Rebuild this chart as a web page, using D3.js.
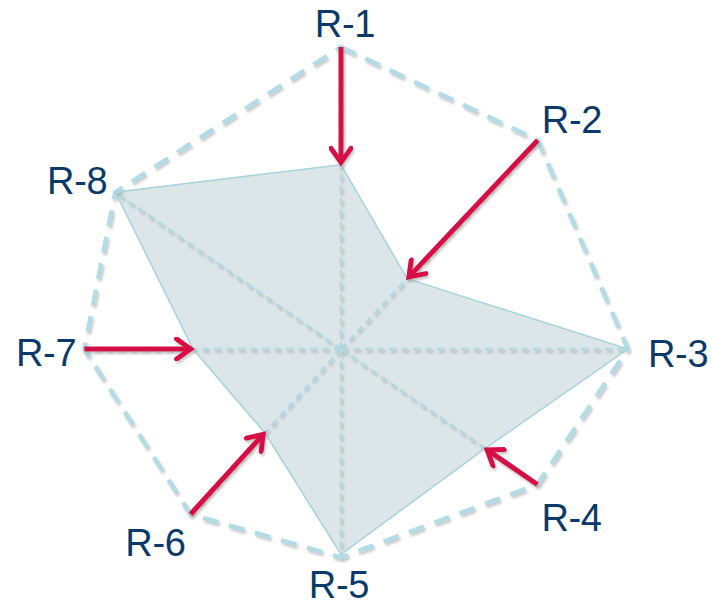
<!DOCTYPE html>
<html>
<head>
<meta charset="utf-8">
<script src="https://cdn.jsdelivr.net/npm/d3@7"></script>
<style>
  html, body { margin: 0; padding: 0; background: #ffffff; }
  svg { display: block; }
</style>
</head>
<body>
<svg id="chart" width="713" height="606"></svg>
<script>
// Radar categories and the two series: the target (dashed outline) and the actual (shaded area)
const categories = ["R-1", "R-2", "R-3", "R-4", "R-5", "R-6", "R-7", "R-8"];
const targetValues = [100, 95, 95, 79, 69, 74, 85, 91];
const actualValues = [61, 32, 95, 58, 68, 37.5, 49, 91];

// Geometry of the spokes (bearing in degrees, clockwise from up)
const axisBearing = [0, 43.3, 90, 124.6, 180, 222.3, 270, 304.8];
// Label nudges from the end of each spoke, with text anchor
const labelNudge = [[4, -10, "middle"], [4, -7, "start"], [20, 18, "start"], [4, 47, "start"],
                    [-2, 41, "middle"], [-5, 42, "end"], [-8, 17, "end"], [-8, 2, "end"]];

const W = 713, H = 606;
const svg = d3.select("#chart");
const cx = 341, cy = 349;
const r = d3.scaleLinear().domain([0, 100]).range([0, 302]);
const rad = d3.scaleLinear().domain([0, 360]).range([0, 2 * Math.PI]);

function pt(i, v) {
  const a = rad(axisBearing[i]);
  return [cx + r(v) * Math.sin(a), cy - r(v) * Math.cos(a)];
}

const defs = svg.append("defs");
const sh = defs.append("filter").attr("id", "shadow")
  .attr("filterUnits", "userSpaceOnUse")
  .attr("x", 0).attr("y", 0).attr("width", W).attr("height", H);
sh.append("feDropShadow").attr("dx", 1.5).attr("dy", 2.5).attr("stdDeviation", 1.2)
  .attr("flood-color", "#8a8a8a").attr("flood-opacity", 0.45);

const arrowColor = "#d70a45";
defs.append("marker").attr("id", "head")
  .attr("viewBox", "-20 -12 24 24")
  .attr("refX", 0).attr("refY", 0)
  .attr("markerWidth", 24).attr("markerHeight", 24)
  .attr("markerUnits", "userSpaceOnUse")
  .attr("orient", "auto")
  .append("path")
  .attr("d", "M-14,-10 L0,0 L-14,10")
  .attr("fill", "none")
  .attr("stroke", arrowColor)
  .attr("stroke-width", 5)
  .attr("stroke-linecap", "round")
  .attr("stroke-linejoin", "miter");

const line = d3.line().curve(d3.curveLinearClosed);
const idx = d3.range(categories.length);

// Actual area fill
svg.append("path")
  .attr("d", line(idx.map(i => pt(i, actualValues[i]))))
  .attr("fill", "#dce5e8")
  .attr("stroke", "none");

// Spokes
svg.append("g").attr("filter", "url(#shadow)")
  .selectAll("line").data(idx).join("line")
  .attr("x1", cx).attr("y1", cy)
  .attr("x2", i => pt(i, targetValues[i])[0])
  .attr("y2", i => pt(i, targetValues[i])[1])
  .attr("stroke", "#b2d9e3")
  .attr("stroke-width", 2.5)
  .attr("stroke-dasharray", "7,5");

// Target outline
svg.append("path")
  .attr("d", line(idx.map(i => pt(i, targetValues[i]))))
  .attr("fill", "none")
  .attr("stroke", "#b3dce6")
  .attr("stroke-width", 4.5)
  .attr("stroke-dasharray", "16,11")
  .attr("filter", "url(#shadow)");

// Actual area outline
svg.append("path")
  .attr("d", line(idx.map(i => pt(i, actualValues[i]))))
  .attr("fill", "none")
  .attr("stroke", "#a6d3dd")
  .attr("stroke-width", 1.5);

// Gap arrows from target toward actual
const gaps = idx.filter(i => targetValues[i] - actualValues[i] > 5);
svg.append("g").attr("filter", "url(#shadow)")
  .selectAll("line").data(gaps).join("line")
  .attr("x1", i => pt(i, targetValues[i])[0])
  .attr("y1", i => pt(i, targetValues[i])[1])
  .attr("x2", i => pt(i, actualValues[i] + 0.8)[0])
  .attr("y2", i => pt(i, actualValues[i] + 0.8)[1])
  .attr("stroke", arrowColor)
  .attr("stroke-width", 5)
  .attr("marker-end", "url(#head)");

// Category labels
svg.append("g").selectAll("text").data(idx).join("text")
  .attr("x", i => pt(i, targetValues[i])[0] + labelNudge[i][0])
  .attr("y", i => pt(i, targetValues[i])[1] + labelNudge[i][1])
  .attr("text-anchor", i => labelNudge[i][2])
  .attr("font-family", "'Liberation Sans', Arial, sans-serif")
  .attr("font-size", 38)
  .attr("letter-spacing", -0.3)
  .attr("fill", "#0b3a6a")
  .text(i => categories[i]);
</script>
</body>
</html>
